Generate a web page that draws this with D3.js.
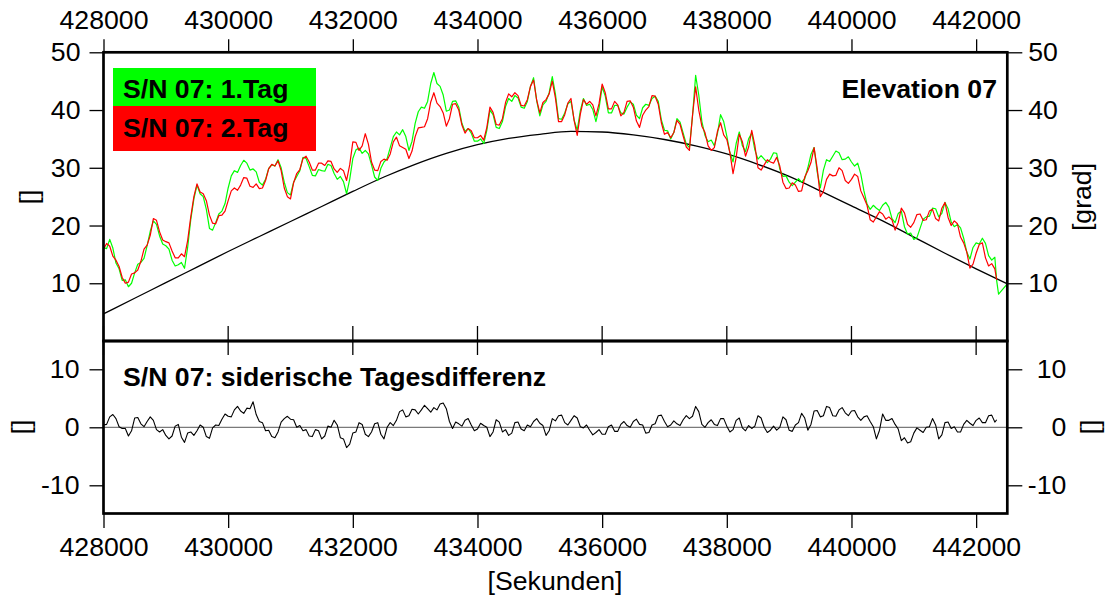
<!DOCTYPE html>
<html>
<head>
<meta charset="utf-8">
<script src="https://cdn.jsdelivr.net/npm/d3@7"></script>
<style>
  body { margin: 0; background: #fff; }
  svg { display: block; }
  text { font-family: "Liberation Sans", Arial, Helvetica, sans-serif; fill: #000; }
</style>
</head>
<body>
<svg id="chart" width="1106" height="596"></svg>
<script>
// ---- data -------------------------------------------------------------
// sample times [s] of the two daily tracks and their sidereal difference
const sampleStart = 428000, sampleEnd = 442300, sampleStep = 50;

// S/N 07, day 1 (green)
const day1 = [
  16.2, 16.0, 17.6, 16.1, 13.5, 12.5, 10.5, 10.6, 9.4, 10.0,
  11.8, 13.3, 13.6, 14.3, 16.5, 19.0, 20.8, 20.2, 18.2, 16.8,
  16.5, 15.9, 14.0, 13.0, 13.2, 13.6, 12.6, 16.2, 21.0, 24.6,
  27.0, 25.5, 25.0, 22.8, 19.5, 19.2, 20.5, 22.0, 22.5, 23.8,
  26.5, 28.6, 29.5, 29.2, 30.4, 31.3, 30.8, 29.6, 29.8, 29.3,
  27.5, 27.0, 28.0, 29.9, 30.5, 30.3, 31.4, 30.0, 27.5, 25.7,
  25.3, 27.5, 28.5, 29.5, 31.8, 31.6, 30.2, 28.7, 28.6, 29.7,
  29.5, 29.4, 30.6, 30.4, 29.0, 28.0, 28.5, 27.6, 25.5, 28.0,
  31.6, 33.1, 33.4, 32.5, 33.0, 32.4, 30.5, 28.4, 27.8, 29.9,
  31.0, 31.6, 33.5, 35.4, 36.2, 35.7, 36.6, 35.4, 33.0, 34.6,
  37.7, 39.7, 40.5, 40.3, 41.5, 44.6, 46.5, 44.6, 44.1, 42.6,
  39.8, 40.0, 41.5, 41.6, 40.5, 37.7, 36.3, 36.8, 36.0, 34.6,
  34.6, 35.0, 34.2, 36.5, 40.0, 39.2, 37.0, 36.8, 38.0, 40.6,
  42.0, 41.5, 42.5, 42.1, 40.5, 40.3, 41.5, 44.1, 45.6, 41.6,
  39.0, 40.9, 41.5, 43.0, 45.8, 42.8, 38.5, 38.4, 39.5, 41.1,
  41.5, 38.3, 36.5, 39.9, 42.0, 40.8, 41.0, 40.1, 38.0, 40.3,
  44.0, 42.4, 39.5, 39.5, 40.8, 40.8, 39.5, 39.3, 40.5, 41.4,
  41.0, 39.1, 38.5, 40.4, 41.0, 40.8, 42.0, 42.4, 41.5, 38.3,
  36.5, 36.4, 35.0, 36.1, 38.5, 37.9, 36.0, 34.1, 33.5, 39.0,
  46.0, 42.6, 38.0, 35.6, 34.5, 34.8, 33.8, 35.9, 39.2, 38.0,
  35.5, 32.6, 31.0, 34.2, 36.2, 33.8, 32.8, 35.0, 36.0, 33.1,
  31.5, 32.1, 31.5, 30.9, 31.5, 32.6, 32.5, 29.8, 28.5, 28.6,
  27.5, 26.9, 27.5, 28.1, 27.5, 28.1, 30.0, 32.3, 33.5, 29.3,
  26.5, 29.6, 31.4, 31.1, 32.0, 32.9, 32.6, 31.4, 31.5, 31.9,
  31.0, 30.3, 30.8, 28.9, 26.0, 23.7, 22.8, 23.5, 23.0, 22.6,
  23.5, 24.0, 23.2, 21.2, 20.5, 22.1, 22.5, 19.8, 18.5, 18.7,
  17.6, 17.9, 19.5, 21.1, 21.5, 21.6, 23.0, 22.9, 21.5, 22.1,
  24.0, 22.9, 20.6, 19.8, 20.2, 19.6, 17.8, 15.4, 14.2, 16.2,
  17.0, 16.8, 17.8, 16.9, 14.8, 14.0, 14.5
];
const day1TailTimes = [442330, 442360, 442500];
const day1TailValues = [10.4, 8.1, 9.9];

// S/N 07, day 2 (red)
const day2 = [
  15.9, 16.9, 16.4, 14.7, 14.0, 12.9, 11.0, 10.0, 10.2, 11.6,
  11.8, 12.3, 13.8, 15.9, 16.6, 18.3, 21.2, 20.9, 18.9, 17.5,
  17.2, 17.0, 15.6, 14.4, 14.4, 15.1, 14.6, 17.4, 21.5, 25.0,
  27.2, 25.8, 25.5, 24.3, 21.8, 20.4, 20.3, 21.7, 21.8, 22.5,
  24.3, 26.0, 26.5, 26.1, 27.0, 28.3, 28.2, 26.8, 26.6, 27.2,
  26.4, 26.5, 27.8, 29.8, 30.6, 30.3, 31.2, 29.5, 26.5, 25.0,
  24.6, 27.4, 29.0, 29.7, 31.6, 32.0, 31.0, 29.6, 29.6, 30.8,
  30.8, 30.4, 31.2, 31.1, 29.8, 29.2, 29.9, 29.5, 27.8, 30.5,
  34.5, 34.4, 33.0, 33.8, 35.9, 34.1, 31.0, 29.6, 29.5, 31.1,
  31.5, 31.3, 32.4, 34.5, 35.3, 33.8, 33.5, 33.2, 31.6, 32.9,
  35.4, 36.9, 37.0, 37.1, 38.5, 41.4, 43.0, 41.2, 40.6, 39.5,
  37.2, 38.5, 41.0, 41.1, 40.0, 37.4, 36.0, 36.8, 36.4, 35.2,
  35.2, 35.6, 34.8, 37.0, 40.5, 39.6, 37.5, 37.4, 38.5, 41.3,
  42.8, 42.3, 43.0, 42.5, 40.8, 40.7, 41.8, 44.1, 45.2, 41.7,
  39.5, 41.3, 41.8, 42.8, 45.0, 42.1, 38.0, 38.0, 39.2, 41.2,
  42.0, 38.2, 35.6, 39.3, 41.8, 41.0, 41.5, 40.9, 39.0, 41.1,
  44.5, 43.0, 40.2, 40.2, 41.5, 40.9, 39.0, 39.6, 41.5, 41.6,
  40.5, 38.1, 37.0, 39.1, 40.0, 40.6, 42.5, 42.4, 41.0, 37.8,
  35.8, 36.1, 35.2, 36.1, 38.2, 37.5, 35.5, 33.6, 33.0, 39.1,
  44.0, 40.0, 37.2, 36.1, 33.8, 33.0, 33.5, 36.3, 37.8, 35.7,
  34.9, 32.6, 29.0, 31.8, 35.8, 34.5, 32.0, 33.6, 36.5, 33.9,
  30.0, 29.6, 30.5, 31.4, 31.0, 30.8, 31.8, 30.3, 27.5, 26.4,
  26.5, 27.4, 27.0, 25.9, 26.0, 28.4, 29.5, 30.9, 33.5, 29.9,
  25.0, 25.9, 28.0, 28.9, 28.6, 28.7, 30.0, 29.5, 27.8, 27.3,
  28.0, 28.9, 28.5, 26.0, 24.8, 23.5, 21.0, 20.6, 21.5, 22.4,
  22.0, 21.1, 21.5, 21.0, 19.2, 20.5, 23.0, 22.2, 20.2, 19.7,
  20.5, 21.9, 22.0, 20.9, 21.0, 22.5, 22.8, 21.2, 20.8, 23.0,
  24.0, 21.4, 20.0, 20.8, 20.3, 18.0, 17.0, 15.4, 12.6, 13.3,
  15.2, 16.7, 17.0, 14.4, 13.0, 13.4, 12.5
];
const day2TailTimes = [442330];
const day2TailValues = [10.6];

// sidereal day difference (day 1 - day 2)
const dayDiff = [
  0.4, 0.5, 1.8, 2.2, 1.5, 0.1, -0.2, -0.2, -1.5, -0.6,
  1.6, 1.7, 0.6, 0.1, 1.0, 1.8, 1.2, -0.4, -0.8, -0.4,
  -1.4, -2.0, -1.5, 0.2, 0.5, -1.7, -2.6, -1.0, -0.8, -1.4,
  -0.6, 0.4, 0.0, -1.6, -1.9, -0.1, 0.4, 0.3, 1.4, 2.3,
  1.9, 1.8, 3.0, 3.6, 2.8, 2.4, 3.3, 3.2, 4.4, 2.2,
  1.0, 0.8, -0.6, -0.5, -1.6, -1.8, -0.8, 0.9, 1.5, 1.9,
  1.4, 1.3, 0.0, 0.3, -0.6, -0.4, -1.5, -1.6, -0.4, -0.6,
  -2.0, -1.5, 0.2, 0.0, 1.2, 0.4, -1.8, -2.0, -3.5, -2.9,
  -1.0, -0.8, 0.8, 0.5, -1.2, -1.6, -0.8, 0.6, 0.8, -1.2,
  -2.0, 0.0, 0.8, 0.3, 1.2, 2.7, 3.0, 1.8, 2.0, 3.1,
  3.0, 2.3, 3.0, 3.8, 3.2, 2.6, 3.4, 3.0, 4.0, 4.2,
  3.2, 1.0, -0.2, 0.9, 0.6, 0.2, 1.2, 1.5, 0.4, -0.6,
  -0.3, 0.7, 0.3, 0.0, -1.6, -0.8, 1.3, 0.9, -0.8, -0.4,
  -1.4, -1.0, 0.8, 0.9, -0.3, -0.6, 0.4, 0.1, 1.0, 1.5,
  0.7, 0.3, -1.4, -0.6, 1.5, 1.1, 2.0, 2.1, 0.8, 0.4,
  1.2, 2.0, 1.6, 0.1, -0.1, 0.4, -0.5, -1.3, -0.9, -0.4,
  -1.2, -1.2, 0.1, 0.4, -0.7, -0.7, 0.5, 1.0, 0.3, 0.0,
  1.0, 1.4, 0.5, 0.4, -1.0, -0.9, 0.4, 0.6, 2.0, 2.1,
  1.0, 0.1, 0.4, 1.1, 0.6, 0.3, 1.3, 2.0, 1.5, 1.9,
  3.6, 2.7, 0.5, 0.0, 0.8, 1.3, 0.5, 0.3, 1.5, 1.5,
  0.2, -0.8, -0.4, 1.2, 1.6, -0.1, -0.6, 0.3, -0.2, 0.2,
  2.0, 1.6, 0.0, -0.9, -0.5, 0.2, -0.5, 0.0, 1.8, 1.3,
  -0.5, -0.7, 0.4, 0.8, 2.4, 1.6, -0.5, 0.5, 2.8, 2.9,
  1.8, 2.0, 3.6, 3.4, 2.0, 1.9, 3.0, 3.4, 2.5, 2.0,
  2.8, 2.9, 1.8, 1.2, 1.8, 2.0, 1.0, 0.1, -2.0, -0.5,
  2.3, 1.2, 1.2, 1.5, 0.5, -0.3, -2.3, -1.8, -2.7, -2.5,
  -1.0, -0.1, -0.5, -0.9, 0.0, 0.1, 1.5, 0.4, -2.0, -1.3,
  0.8, 0.9, -0.2, 0.1, -0.8, -0.8, 0.5, 1.2, 0.7, 0.3,
  1.2, 1.6, 0.8, 0.8, 2.0, 2.1, 0.9
];
const dayDiffTailTimes = [442330];
const dayDiffTailValues = [1.3];

// satellite elevation [grad]
const elevTimes = [
  428000, 428500, 429000, 429500, 430000, 430500, 431000, 431500, 432000, 432500,
  433000, 433500, 434000, 434500, 435000, 435500, 436000, 436500, 437000, 437500,
  438000, 438500, 439000, 439500, 440000, 440500, 441000, 441500, 442000, 442500
];
const elevValues = [
  4.7, 7.4, 10.1, 12.8, 15.5, 18.1, 20.7, 23.3, 25.9, 28.4,
  30.6, 32.5, 34.0, 35.1, 35.8, 36.3, 36.2, 35.7, 34.9, 33.8,
  32.4, 30.6, 28.5, 26.0, 23.4, 20.8, 18.0, 15.2, 12.5, 9.9
];

// axis ticks
const xTicks = [428000, 430000, 432000, 434000, 436000, 438000, 440000, 442000];
const topYTicks = [10, 20, 30, 40, 50];
const botYTicks = [-10, 0, 10];

// legend
const legendLabels = ["S/N 07: 1.Tag", "S/N 07: 2.Tag"];
const legendColors = ["#00ff00", "#ff0000"];

// ---- layout -----------------------------------------------------------
const svg = d3.select("#chart");
const L = 103.5, R = 1007.3;
const topT = 52.3, midY = 341, botB = 513.5;
const FS = "26.67px";

const x = d3.scaleLinear().domain([428000, 442500]).range([L, R]);
const yTop = d3.scaleLinear().domain([0, 50]).range([midY, topT]);
const yBot = d3.scaleLinear().domain([-15, 15]).range([514.3, 340.3]);

const sampleTimes = d3.range(sampleStart, sampleEnd + 1, sampleStep);
const pairs = (ts, vs) => ts.map((t, i) => [t, vs[i]]);
const green = pairs(sampleTimes, day1).concat(pairs(day1TailTimes, day1TailValues));
const red = pairs(sampleTimes, day2).concat(pairs(day2TailTimes, day2TailValues));
const diff = pairs(sampleTimes, dayDiff).concat(pairs(dayDiffTailTimes, dayDiffTailValues));
const elev = pairs(elevTimes, elevValues);

// ---- top panel: elevation and two daily tracks -------------------------
const lineTop = d3.line().x(d => x(d[0])).y(d => yTop(d[1]));
svg.append("path").datum(elev)
  .attr("d", lineTop.curve(d3.curveMonotoneX))
  .attr("fill", "none").attr("stroke", "#000").attr("stroke-width", 1.3);
lineTop.curve(d3.curveLinear);
svg.append("path").datum(green).attr("d", lineTop)
  .attr("fill", "none").attr("stroke", "#00ff00").attr("stroke-width", 1.2)
  .attr("stroke-linejoin", "round");
svg.append("path").datum(red).attr("d", lineTop)
  .attr("fill", "none").attr("stroke", "#ff0000").attr("stroke-width", 1.2)
  .attr("stroke-linejoin", "round");

// ---- bottom panel: sidereal difference ---------------------------------
svg.append("line")
  .attr("x1", L).attr("x2", R).attr("y1", yBot(0)).attr("y2", yBot(0))
  .attr("stroke", "#7a7a7a").attr("stroke-width", 1.2);
const lineBot = d3.line().x(d => x(d[0])).y(d => yBot(d[1]));
svg.append("path").datum(diff).attr("d", lineBot)
  .attr("fill", "none").attr("stroke", "#000").attr("stroke-width", 1.1)
  .attr("stroke-linejoin", "round");

// ---- legend and panel titles -------------------------------------------
const legendRows = [{y0: 68, y1: 106, base: 98}, {y0: 106, y1: 151, base: 137}];
legendLabels.forEach((lab, i) => {
  const r = legendRows[i];
  svg.append("rect").attr("x", 113).attr("y", r.y0)
    .attr("width", 203).attr("height", r.y1 - r.y0).attr("fill", legendColors[i]);
  svg.append("text").attr("x", 123).attr("y", r.base)
    .attr("font-size", FS).attr("font-weight", "bold").text(lab);
});
svg.append("text").attr("x", 997).attr("y", 98).attr("text-anchor", "end")
  .attr("font-size", FS).attr("font-weight", "bold").text("Elevation 07");
svg.append("text").attr("x", 123).attr("y", 386)
  .attr("font-size", FS).attr("font-weight", "bold").text("S/N 07: siderische Tagesdifferenz");

// ---- axes --------------------------------------------------------------
function styleAxis(g) {
  g.select(".domain").remove();
  g.selectAll(".tick line").attr("stroke", "#000").attr("stroke-width", 1.3);
  g.selectAll(".tick text").attr("font-size", FS)
    .attr("font-family", "'Liberation Sans', Arial, sans-serif").attr("fill", "#000");
}
// plain hyphen for negative labels
const fmt = d => String(d);

svg.append("g").attr("transform", `translate(0,${topT})`)
  .call(d3.axisTop(x).tickValues(xTicks).tickFormat(fmt).tickSize(13).tickPadding(10))
  .call(styleAxis);
svg.append("g").attr("transform", `translate(0,${botB})`)
  .call(d3.axisBottom(x).tickValues(xTicks).tickFormat(fmt).tickSize(14.5).tickPadding(9.5))
  .call(styleAxis);

svg.append("g").attr("transform", `translate(${L},0)`)
  .call(d3.axisLeft(yTop).tickValues(topYTicks).tickFormat(fmt).tickSize(14).tickPadding(9))
  .call(styleAxis);
svg.append("g").attr("transform", `translate(${R},0)`)
  .call(d3.axisRight(yTop).tickValues(topYTicks).tickFormat(fmt).tickSize(15).tickPadding(6))
  .call(styleAxis);
svg.append("g").attr("transform", `translate(${L},0)`)
  .call(d3.axisLeft(yBot).tickValues(botYTicks).tickFormat(fmt).tickSize(14).tickPadding(10))
  .call(styleAxis);
svg.append("g").attr("transform", `translate(${R},0)`)
  .call(d3.axisRight(yBot).tickValues(botYTicks).tickFormat(fmt).tickSize(15).tickPadding(6))
  .call(styleAxis)
  .call(g => g.selectAll(".tick text").attr("text-anchor", "end").attr("x", 59));

// ticks on the shared border between the panels
svg.append("g").selectAll("line").data(xTicks).join("line")
  .attr("x1", d => x(d)).attr("x2", d => x(d))
  .attr("y1", 326).attr("y2", 355)
  .attr("stroke", "#000").attr("stroke-width", 1.3);

// panel frames
svg.append("rect").attr("x", L).attr("y", topT).attr("width", R - L).attr("height", midY - topT)
  .attr("fill", "none").attr("stroke", "#000").attr("stroke-width", 2.7);
svg.append("rect").attr("x", L).attr("y", midY).attr("width", R - L).attr("height", botB - midY)
  .attr("fill", "none").attr("stroke", "#000").attr("stroke-width", 2.7);

// axis titles
const title = (tx, ty, rot, s) => svg.append("text")
  .attr("transform", `translate(${tx},${ty}) rotate(${rot})`)
  .attr("text-anchor", "middle").attr("font-size", FS).text(s);
title(37.5, 197, -90, "[]");
title(29.5, 427, -90, "[]");
title(1091, 197, -90, "[grad]");
title(1098.5, 427, -90, "[]");
svg.append("text").attr("x", 555).attr("y", 590).attr("text-anchor", "middle")
  .attr("font-size", FS).text("[Sekunden]");
</script>
</body>
</html>
